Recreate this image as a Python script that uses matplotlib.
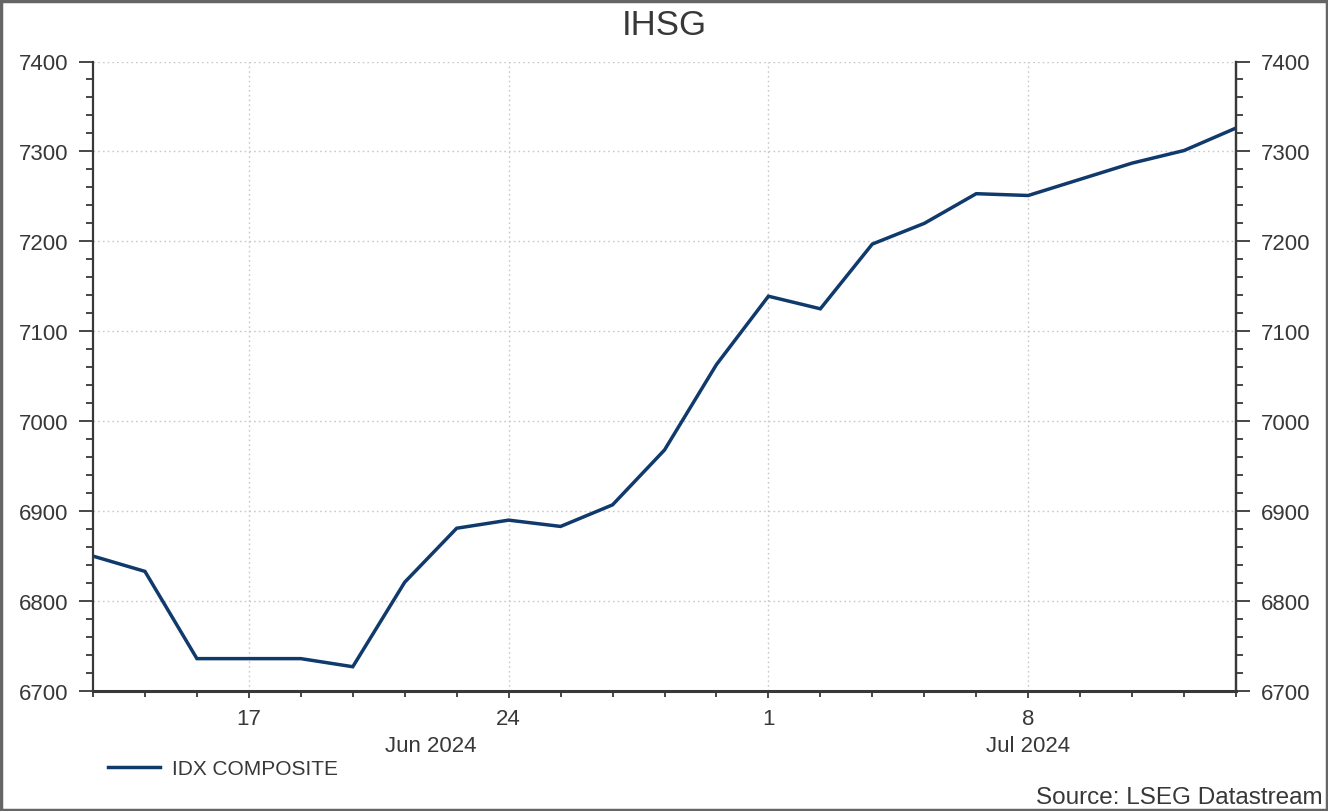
import numpy as np
import matplotlib
matplotlib.use("Agg")
import matplotlib.pyplot as plt
from matplotlib.ticker import MultipleLocator
from matplotlib.patches import Rectangle

plt.rcParams["font.family"] = ["Liberation Sans", "DejaVu Sans"]

# trading days 12 Jun 2024 .. 12 Jul 2024
dates = ["2024-06-12", "2024-06-13", "2024-06-14", "2024-06-17", "2024-06-18",
         "2024-06-19", "2024-06-20", "2024-06-21", "2024-06-24", "2024-06-25",
         "2024-06-26", "2024-06-27", "2024-06-28", "2024-07-01", "2024-07-02",
         "2024-07-03", "2024-07-04", "2024-07-05", "2024-07-08", "2024-07-09",
         "2024-07-10", "2024-07-11", "2024-07-12"]
ihsg = [6850, 6833, 6736, 6736, 6736, 6727, 6821, 6881, 6890, 6883,
        6907, 6968, 7063, 7139, 7125, 7197, 7220, 7253, 7251, 7269,
        7287, 7301, 7326]

major_days = ["2024-06-17", "2024-06-24", "2024-07-01", "2024-07-08"]
major_labels = ["17", "24", "1", "8"]
months = ["Jun 2024", "Jul 2024"]

LINE = "#0f3a6b"
TXT = "#383838"
GRID = "#c8c8c8"
FS = 16

x = np.arange(len(dates))
major_idx = [dates.index(d) for d in major_days]

fig = plt.figure(figsize=(13.28, 8.12), dpi=100)
W, H = 1328, 812
ax = fig.add_axes([93 / W, 1 - 692 / H, (1236 - 93) / W, (692 - 62.5) / H])

ax.plot(x, ihsg, color=LINE, lw=2.5, label="IDX COMPOSITE", solid_joinstyle="miter")
ax.set_xlim(0, len(dates) - 1)
ax.set_ylim(6700, 7400)

ax.yaxis.set_major_locator(MultipleLocator(100))
ax.yaxis.set_minor_locator(MultipleLocator(20))
ax.set_xticks(major_idx)
ax.set_xticklabels(major_labels)
ax.set_xticks(x, minor=True)

ax.grid(True, which="major", color=GRID, ls=(0, (1.2, 2.2)), lw=1.0)

for s in ["left", "bottom", "right"]:
    ax.spines[s].set_color(TXT)
    ax.spines[s].set_linewidth(1.6)
ax.spines["bottom"].set_linewidth(2.2)
ax.spines["top"].set_visible(False)

ax.tick_params(axis="y", which="major", length=10, width=1.3, color=TXT,
               labelsize=FS, labelcolor=TXT, pad=8)
ax.tick_params(axis="y", which="minor", length=5, width=1.3, color=TXT)
ax.tick_params(axis="x", which="major", length=5, width=1.3, color=TXT,
               labelsize=FS, labelcolor=TXT, pad=7)
ax.tick_params(axis="x", which="minor", length=4, width=1.3, color=TXT)

ax2 = ax.twinx()
ax2.set_ylim(ax.get_ylim())
ax2.yaxis.set_major_locator(MultipleLocator(100))
ax2.yaxis.set_minor_locator(MultipleLocator(20))
for s in ["left", "bottom", "top"]:
    ax2.spines[s].set_visible(False)
ax2.spines["right"].set_color(TXT)
ax2.spines["right"].set_linewidth(1.6)
ax2.tick_params(axis="y", which="major", length=10, width=1.3, color=TXT,
                labelsize=FS, labelcolor=TXT, pad=8)
ax2.tick_params(axis="y", which="minor", length=5, width=1.3, color=TXT)

# month labels under the day ticks
jun = [i for i, d in enumerate(dates) if d[5:7] == "06"]
jul = [i for i, d in enumerate(dates) if d[5:7] == "07"]
for name, idx in zip(months, [jun, jul]):
    ax.text((idx[0] + idx[-1]) / 2 + 0.5, -0.087, name, transform=ax.get_xaxis_transform(),
            ha="center", va="center", fontsize=FS, color=TXT)

ax.set_title("IHSG", fontsize=25, color=TXT, pad=20)

ax.legend(loc="upper left", bbox_to_anchor=(100 / W, 1 - 752 / H),
          bbox_transform=fig.transFigure, frameon=False, fontsize=15,
          handlelength=2.5, handletextpad=0.55, borderaxespad=0)
for t in ax.get_legend().get_texts():
    t.set_color(TXT)

fig.text(1323 / W, 1 - 798 / H, "Source: LSEG Datastream", ha="right", va="center",
         fontsize=17.5, color=TXT)

fig.patches.append(Rectangle((0.001, 0.001), 0.998, 0.997, transform=fig.transFigure,
                             fill=False, edgecolor="#666666", lw=2.5))

fig.savefig("out.png", dpi=100)
